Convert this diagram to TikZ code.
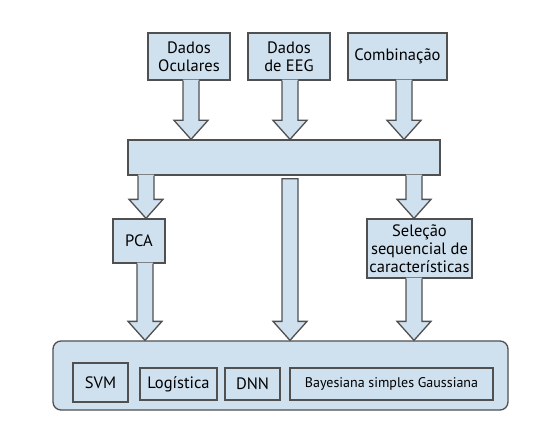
\documentclass[tikz,border=0pt]{standalone}
\usepackage{fontspec}
\setmainfont{PT Sans}
\usetikzlibrary{calc}
\definecolor{fillb}{HTML}{CFE0EF}
\definecolor{edge}{HTML}{505050}
% block arrow: #1 x (pt), #2 start anchor, #3 end anchor
\newcommand\barrow[3]{%
  \fill[fillb] let \p1=(#2), \p2=(#3) in
    (#1pt-8pt,\y1+1pt) -- (#1pt-8pt,\y2+19pt) -- (#1pt-17pt,\y2+19pt) -- (#1pt,\y2) --
    (#1pt+17pt,\y2+19pt) -- (#1pt+8pt,\y2+19pt) -- (#1pt+8pt,\y1+1pt) -- cycle;
  \draw[arrline] let \p1=(#2), \p2=(#3) in
    (#1pt-8pt,\y1) -- (#1pt-8pt,\y2+19pt) -- (#1pt-17pt,\y2+19pt) -- (#1pt,\y2) --
    (#1pt+17pt,\y2+19pt) -- (#1pt+8pt,\y2+19pt) -- (#1pt+8pt,\y1);}
\begin{document}
\begin{tikzpicture}[x=1pt,y=-1pt,
  box/.style={draw=edge, fill=fillb, line width=1.3pt, inner sep=0pt, align=center,
    font=\fontsize{16.5}{18}\selectfont},
  arrline/.style={draw=edge, line width=1.3pt, line join=miter}]
\useasboundingbox (0,0) rectangle (555,428);
\node[box, minimum width=82, minimum height=47] (ocu) at (189,56.5) {Dados\\Oculares};
\node[box, minimum width=82, minimum height=47] (eeg) at (289,56.5) {Dados\\de EEG};
\node[box, minimum width=99, minimum height=47] (comb) at (397.5,56.5) {Combinação};
\node[box, minimum width=312, minimum height=35] (bar) at (284,157.5) {};
\node[box, minimum width=52, minimum height=44] (pca) at (139,241) {PCA};
\node[box, minimum width=105, minimum height=59] (sel) at (419.5,248.5) {Seleção\\sequencial de\\características};
\node[box, minimum width=455, minimum height=69, rounded corners=8pt] (clf) at (280.5,375.5) {};
\node[box, minimum width=55, minimum height=39] (svm) at (100.5,382.5) {SVM};
\node[box, minimum width=77, minimum height=32] (log) at (178.5,384) {Logística};
\node[box, minimum width=55, minimum height=32] (dnn) at (252.5,384) {DNN};
\node[box, minimum width=203, minimum height=32, font=\fontsize{14}{16}\selectfont] (bay) at (391.5,384) {Bayesiana simples Gaussiana};
% arrows
\barrow{191}{ocu.south}{bar.north}
\barrow{290}{eeg.south}{bar.north}
\barrow{404}{comb.south}{bar.north}
\barrow{146}{bar.south}{pca.north}
\barrow{414}{bar.south}{sel.north}
\barrow{145}{pca.south}{clf.north}
\barrow{414}{sel.south}{clf.north}
\fill[fillb] let \p1=(bar.south), \p2=(clf.north) in
    (290pt-8pt,\y1-3pt) -- (290pt-8pt,\y2+19pt) -- (290pt-17pt,\y2+19pt) -- (290pt,\y2) --
    (290pt+17pt,\y2+19pt) -- (290pt+8pt,\y2+19pt) -- (290pt+8pt,\y1-3pt) -- cycle;
\draw[arrline] let \p1=(bar.south), \p2=(clf.north) in
    (290pt-8pt,\y1-3pt) -- (290pt-8pt,\y2+19pt) -- (290pt-17pt,\y2+19pt) -- (290pt,\y2) --
    (290pt+17pt,\y2+19pt) -- (290pt+8pt,\y2+19pt) -- (290pt+8pt,\y1-3pt) -- cycle;
\end{tikzpicture}
\end{document}
